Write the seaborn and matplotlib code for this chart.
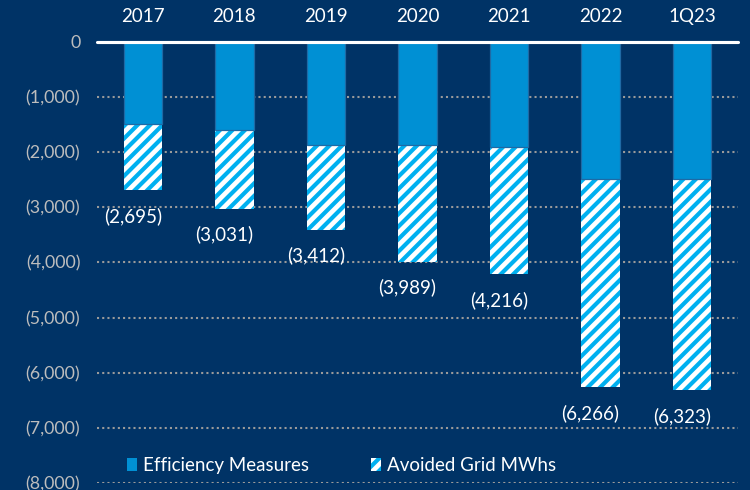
import numpy as np
import pandas as pd
import seaborn as sns
import matplotlib.pyplot as plt
from matplotlib.patches import Patch
from matplotlib.ticker import FuncFormatter, MultipleLocator


periods = ['2017', '2018', '2019', '2020', '2021', '2022', '1Q23']
efficiency = [-1500, -1600, -1870, -1880, -1900, -2480, -2480]
totals = [-2695, -3031, -3412, -3989, -4216, -6266, -6323]
legend_labels = ['Efficiency Measures', 'Avoided Grid MWhs']

bg = '#003366'
eff_blue = '#0090D4'
hatch_blue = '#00B0F0'

sns.set_theme(style='white')
plt.rcParams['font.family'] = ['Lato', 'DejaVu Sans']
plt.rcParams['hatch.linewidth'] = 2.0


def main():
    df = pd.DataFrame({'period': periods, 'efficiency': efficiency, 'total': totals})

    fig = plt.figure(figsize=(5, 490 / 150), dpi=150, facecolor=bg)
    ax = fig.add_axes([97 / 750, 1 - 483 / 490, 641 / 750, (483 - 41.7) / 490])
    ax.set_facecolor(bg)

    # hatched part = full total, solid part drawn over it
    sns.barplot(data=df, x='period', y='total', color='white', saturation=1,
                hatch='////', edgecolor=hatch_blue, linewidth=0, width=0.42,
                ax=ax, zorder=2)
    sns.barplot(data=df, x='period', y='efficiency', color=eff_blue, saturation=1,
                edgecolor='#1f6aa5', linewidth=0.6, width=0.42, ax=ax, zorder=3)

    for i, v in enumerate(totals):
        ax.annotate(f'({abs(v):,})', (i - 0.11, v), xytext=(0, -8),
                    textcoords='offset points', ha='center', va='top',
                    color='white', fontsize=9)

    ax.set_ylim(-8000, 0)
    ax.set_xlim(-0.5, 6.5)
    ax.yaxis.set_major_locator(MultipleLocator(1000))
    ax.yaxis.set_major_formatter(FuncFormatter(
        lambda v, p: '0' if v == 0 else f'({abs(int(v)):,})'))
    ax.grid(axis='y', color='#9a9a9a', linestyle=(0, (1, 1.5)), linewidth=1, zorder=1)
    ax.grid(axis='x', visible=False)
    ax.axhline(0, color='white', linewidth=1.5, zorder=5, clip_on=False)

    ax.xaxis.tick_top()
    ax.tick_params(axis='x', length=0, pad=8, colors='white', labelsize=9)
    ax.tick_params(axis='y', length=0, pad=8, colors='#bdbdbd', labelsize=8.5)
    ax.set_xlabel('')
    ax.set_ylabel('')
    for s in ax.spines.values():
        s.set_visible(False)

    handles = [Patch(facecolor=eff_blue, edgecolor='none'),
               Patch(facecolor='white', edgecolor=hatch_blue, hatch='////', linewidth=0)]
    leg = ax.legend(handles, legend_labels, loc='center left', bbox_to_anchor=(0.035, 0.04),
                    ncol=2, frameon=False, fontsize=9, handlelength=0.55, handleheight=0.7,
                    handletextpad=0.3, columnspacing=3.3, borderaxespad=0)
    for t in leg.get_texts():
        t.set_color('white')

    fig.savefig('out.png', dpi=150, facecolor=bg)
    plt.close()


if __name__ == '__main__':
    main()
